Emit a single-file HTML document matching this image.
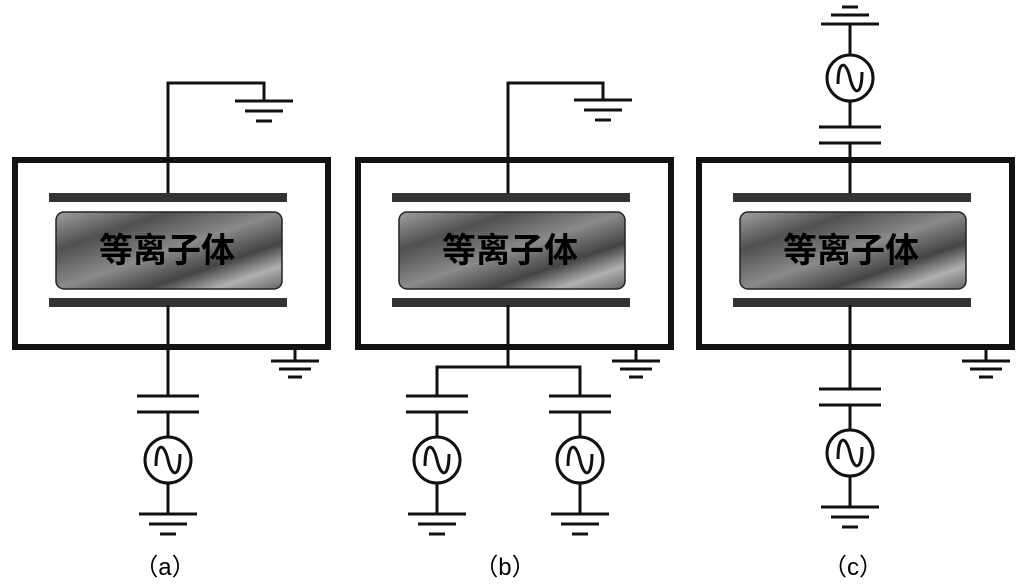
<!DOCTYPE html>
<html><head><meta charset="utf-8"><style>
html,body{margin:0;padding:0;background:#fff;width:1027px;height:586px;overflow:hidden}
svg{display:block}
text{font-family:"Liberation Sans","Noto Sans CJK SC",sans-serif}
</style></head><body>
<svg width="1027" height="586" viewBox="0 0 1027 586" xmlns="http://www.w3.org/2000/svg">
<defs>
<linearGradient id="pl" x1="0" y1="0" x2="1" y2="1">
<stop offset="0" stop-color="#a0a0a0"/><stop offset="0.25" stop-color="#505050"/>
<stop offset="0.5" stop-color="#8a8a8a"/><stop offset="0.7" stop-color="#444"/>
<stop offset="0.85" stop-color="#b0b0b0"/><stop offset="1" stop-color="#666"/>
</linearGradient>
<g id="box">
<rect x="0" y="0" width="313" height="187" fill="none" stroke="#111" stroke-width="6"/>
<rect x="34" y="33" width="238" height="9" fill="#333"/>
<rect x="34" y="138" width="238" height="9" fill="#333"/>
<rect x="41" y="52" width="226" height="77" rx="8" fill="url(#pl)" stroke="#222" stroke-width="1.5"/>
<text x="152" y="102" font-size="34" font-weight="bold" text-anchor="middle" fill="#000">等离子体</text>
</g>
<g id="gnd" stroke="#111" stroke-width="3">
<line x1="-29" y1="0" x2="29" y2="0"/><line x1="-19" y1="10" x2="19" y2="10"/><line x1="-8" y1="20" x2="8" y2="20"/>
</g>
<g id="sgnd" stroke="#111" stroke-width="3">
<line x1="-24" y1="0" x2="24" y2="0"/><line x1="-16" y1="8" x2="16" y2="8"/><line x1="-7" y1="16" x2="7" y2="16"/>
</g>
<g id="src" fill="none" stroke="#111" stroke-width="3">
<circle cx="0" cy="0" r="23"/>
<path d="M-12,6 C-12,-18 -4,-18 0,0 C4,18 12,18 12,-6"/>
</g>
</defs>

<use href="#box" x="15" y="160"/>
<g stroke="#111" stroke-width="3" fill="none">
<path d="M168,193 V83 H264 V100"/>
<line x1="168" y1="305" x2="168" y2="396"/>
<line x1="137" y1="396" x2="199" y2="396"/><line x1="137" y1="412" x2="199" y2="412"/>
<line x1="168" y1="412" x2="168" y2="437"/><line x1="168" y1="483" x2="168" y2="514"/>
<line x1="295" y1="347" x2="295" y2="360"/>
</g>
<use href="#gnd" x="264" y="101"/>
<use href="#sgnd" x="295" y="361"/>
<use href="#src" x="168" y="460"/>
<use href="#gnd" x="168" y="514"/>
<text x="165" y="575" font-size="24" text-anchor="middle" font-family="Noto Sans CJK SC, sans-serif">（a）</text>

<use href="#box" x="358" y="160"/>
<g stroke="#111" stroke-width="3" fill="none">
<path d="M508,193 V83 H603 V100"/>
<line x1="508" y1="305" x2="508" y2="367"/>
<path d="M437,396 V367 H580 V396"/>
<line x1="406" y1="396" x2="468" y2="396"/><line x1="406" y1="412" x2="468" y2="412"/>
<line x1="549" y1="396" x2="611" y2="396"/><line x1="549" y1="412" x2="611" y2="412"/>
<line x1="437" y1="412" x2="437" y2="437"/><line x1="437" y1="483" x2="437" y2="514"/>
<line x1="580" y1="412" x2="580" y2="437"/><line x1="580" y1="483" x2="580" y2="514"/>
<line x1="636" y1="347" x2="636" y2="360"/>
</g>
<use href="#gnd" x="603" y="100"/>
<use href="#sgnd" x="636" y="361"/>
<use href="#src" x="437" y="460"/><use href="#src" x="580" y="460"/>
<use href="#gnd" x="437" y="514"/><use href="#gnd" x="580" y="514"/>
<text x="505" y="575" font-size="24" text-anchor="middle" font-family="Noto Sans CJK SC, sans-serif">（b）</text>

<use href="#box" x="699" y="160"/>
<g stroke="#111" stroke-width="3" fill="none">
<line x1="850" y1="24" x2="850" y2="55"/><line x1="850" y1="101" x2="850" y2="127"/>
<line x1="819" y1="127" x2="881" y2="127"/><line x1="819" y1="143" x2="881" y2="143"/>
<line x1="850" y1="143" x2="850" y2="193"/>
<line x1="850" y1="305" x2="850" y2="389"/>
<line x1="819" y1="389" x2="881" y2="389"/><line x1="819" y1="405" x2="881" y2="405"/>
<line x1="850" y1="405" x2="850" y2="430"/><line x1="850" y1="476" x2="850" y2="507"/>
<line x1="986" y1="347" x2="986" y2="360"/>
</g>
<g stroke="#111" stroke-width="3">
<line x1="821" y1="24" x2="879" y2="24"/><line x1="831" y1="15" x2="869" y2="15"/><line x1="842" y1="7" x2="858" y2="7"/>
</g>
<use href="#src" x="850" y="78"/>
<use href="#src" x="850" y="453"/>
<use href="#gnd" x="850" y="507"/>
<use href="#sgnd" x="986" y="361"/>
<text x="853" y="575" font-size="24" text-anchor="middle" font-family="Noto Sans CJK SC, sans-serif">（c）</text>
</svg>
</body></html>
